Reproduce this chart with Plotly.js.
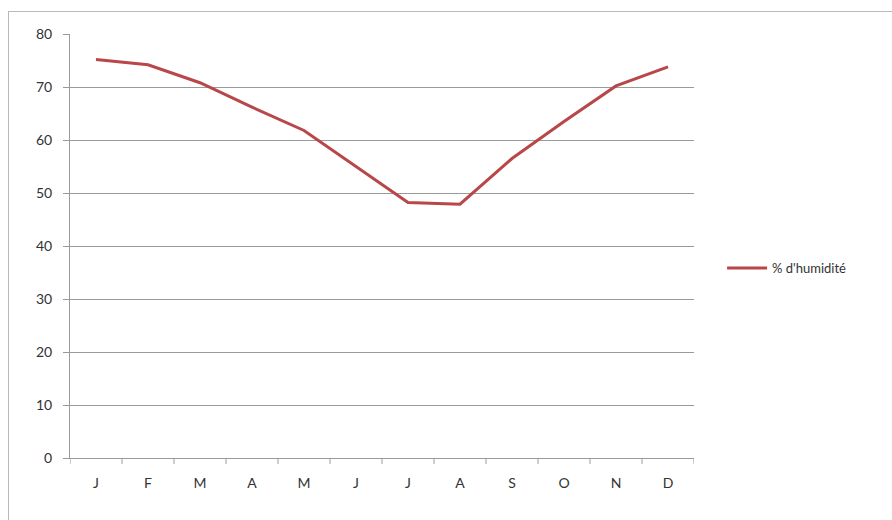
<!DOCTYPE html>
<html>
<head>
<meta charset="utf-8">
<script src="https://cdn.plot.ly/plotly-3.0.1.min.js"></script>
<style>
html,body{margin:0;padding:0;background:#fff;}
#wrap{position:relative;width:892px;height:520px;overflow:hidden;}
#frame{position:absolute;left:8px;top:11px;width:900px;height:520px;border:1px solid #b8b8b8;box-sizing:border-box;}
#chart{position:absolute;left:0;top:0;width:892px;height:520px;}
</style>
</head>
<body>
<div id="wrap"><div id="frame"></div><div id="chart"></div></div>
<script>
const months = ["J","F","M","A","M","J","J","A","S","O","N","D"];
const humidity = [75.2, 74.2, 70.8, 66.2, 61.8, 55.0, 48.2, 47.9, 56.5, 63.5, 70.2, 73.8];
const seriesName = "% d'humidité";

const xIdx = months.map((m, i) => i);

Plotly.newPlot('chart', [{
  x: xIdx,
  y: humidity,
  type: 'scatter',
  mode: 'lines',
  name: seriesName,
  line: {color: '#b9474a', width: 3}
}], {
  width: 892, height: 520,
  paper_bgcolor: 'rgba(0,0,0,0)',
  plot_bgcolor: 'rgba(0,0,0,0)',
  margin: {l: 70, r: 198, t: 34, b: 62},
  font: {family: 'Lato, sans-serif', size: 14, color: '#333333'},
  showlegend: true,
  legend: {x: 1.045, xanchor: 'left', y: 0.448, yanchor: 'middle', itemwidth: 40,
           font: {size: 13, color: '#333333'}, bgcolor: 'rgba(0,0,0,0)'},
  xaxis: {
    type: 'linear', range: [-0.5, 11.5],
    tickmode: 'array', tickvals: xIdx, ticktext: months,
    showgrid: false, zeroline: false,
    showline: true, linecolor: '#9a9a9a', linewidth: 1,
    ticks: '', ticklabelstandoff: 12,
    tickfont: {size: 14, color: '#333333'}
  },
  yaxis: {
    range: [0, 80], dtick: 10, tick0: 0,
    showgrid: true, gridcolor: '#9a9a9a', gridwidth: 1,
    zeroline: false, showline: true, linecolor: '#9a9a9a', linewidth: 1,
    ticks: 'outside', ticklen: 6, tickcolor: '#9a9a9a',
    ticklabelstandoff: 8,
    tickfont: {size: 14, color: '#333333'}
  },
  shapes: months.concat(['']).map((m, i) => ({
    type: 'line', xref: 'x', yref: 'paper',
    x0: i - 0.5, x1: i - 0.5, y0: 0, y1: -0.014,
    line: {color: '#9a9a9a', width: 1}
  }))
}, {displayModeBar: false, staticPlot: true});
</script>
</body>
</html>
